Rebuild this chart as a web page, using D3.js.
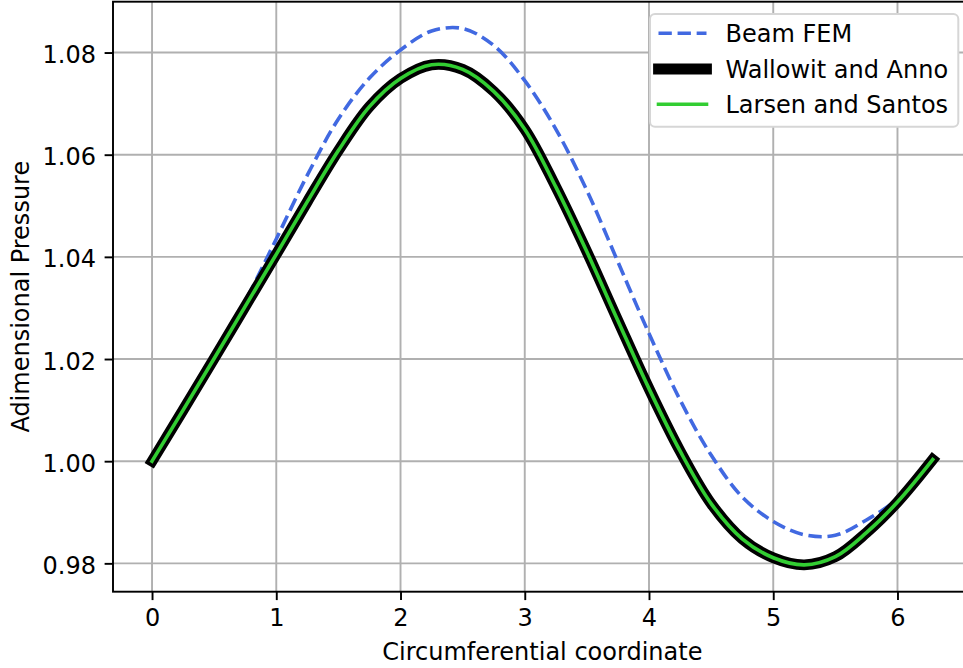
<!DOCTYPE html>
<html>
<head>
<meta charset="utf-8">
<script src="https://cdn.jsdelivr.net/npm/d3@7"></script>
<style>
  html, body { margin: 0; padding: 0; background: #fff; }
  svg { display: block; font-family: "DejaVu Sans", sans-serif; }
</style>
</head>
<body>
<svg id="chart" width="963" height="668"></svg>
<script>
// ---- data ----
const theta = [0, 0.25, 0.5, 0.75, 1.0, 1.25, 1.5, 1.75, 2.0, 2.25, 2.5, 2.75, 3.0, 3.25,
               3.5, 3.75, 4.0, 4.25, 4.5, 4.75, 5.0, 5.25, 5.5, 5.75, 6.0, 6.2832];
const beamFEM = [1.0000, 1.0100, 1.0202, 1.0313, 1.0435, 1.0560, 1.0670, 1.0750, 1.0805, 1.0842,
                 1.0847, 1.0814, 1.0745, 1.0650, 1.0530, 1.0390, 1.0250, 1.0120, 1.0012, 0.9930,
                 0.9882, 0.9856, 0.9855, 0.9885, 0.9926, 1.0002];
const wallowitAnno = [1.0000, 1.0100, 1.0201, 1.0303, 1.0405, 1.0508, 1.0608, 1.0694, 1.0749, 1.0776,
                      1.0767, 1.0724, 1.0650, 1.0537, 1.0410, 1.0275, 1.0142, 1.0020, 0.9917, 0.9848,
                      0.9811, 0.9797, 0.9813, 0.9860, 0.9920, 1.0003];
const larsenSantos = [1.0000, 1.0100, 1.0201, 1.0303, 1.0405, 1.0508, 1.0608, 1.0694, 1.0749, 1.0776,
                      1.0767, 1.0724, 1.0650, 1.0537, 1.0410, 1.0275, 1.0142, 1.0020, 0.9917, 0.9848,
                      0.9811, 0.9797, 0.9813, 0.9860, 0.9920, 1.0003];
const seriesNames = ["Beam FEM", "Wallowit and Anno", "Larsen and Santos"];
const xTicks = [0, 1, 2, 3, 4, 5, 6];
const yTicks = [0.98, 1.00, 1.02, 1.04, 1.06, 1.08];
const xLabel = "Circumferential coordinate";
const yLabel = "Adimensional Pressure";

(function () {
// ---- layout ----
const PT = 2.4;                       // px per point
const pL = 113, pR = 971.7, pT = 1.7, pB = 591.7;
const svg = d3.select("#chart");

const xMin = 0, xMax = d3.max(theta);
const xPad = (xMax - xMin) * 0.05;
const x = d3.scaleLinear().domain([xMin - xPad, xMax + xPad]).range([pL, pR]);

const allY = beamFEM.concat(wallowitAnno, larsenSantos);
const yLo = d3.min(allY), yHi = d3.max(allY);
const yPad = (yHi - yLo) * 0.05;
const y = d3.scaleLinear().domain([yLo - yPad, yHi + yPad]).range([pB, pT]);

// grid
const grid = svg.append("g");
grid.selectAll("line.gx").data(xTicks).join("line").attr("class", "gx")
  .attr("x1", d => x(d)).attr("x2", d => x(d)).attr("y1", pT).attr("y2", pB)
  .attr("stroke", "#b0b0b0").attr("stroke-width", 0.8 * PT);
grid.selectAll("line.gy").data(yTicks).join("line").attr("class", "gy")
  .attr("x1", pL).attr("x2", pR).attr("y1", d => y(d)).attr("y2", d => y(d))
  .attr("stroke", "#b0b0b0").attr("stroke-width", 0.8 * PT);

// lines
const mk = arr => theta.map((t, i) => [t, arr[i]]);
const line = d3.line().x(d => x(d[0])).y(d => y(d[1])).curve(d3.curveCatmullRom.alpha(0.5));
const dash = `${3.7 * 1.5 * PT},${1.6 * 1.5 * PT}`;

svg.append("path").datum(mk(beamFEM)).attr("d", line)
  .attr("fill", "none").attr("stroke", "#4169e1").attr("stroke-width", 1.5 * PT)
  .attr("stroke-dasharray", dash).attr("stroke-linejoin", "round");
svg.append("path").datum(mk(wallowitAnno)).attr("d", line)
  .attr("fill", "none").attr("stroke", "#000").attr("stroke-width", 4.5 * PT)
  .attr("stroke-linecap", "square").attr("stroke-linejoin", "round");
svg.append("path").datum(mk(larsenSantos)).attr("d", line)
  .attr("fill", "none").attr("stroke", "#32cd32").attr("stroke-width", 1.5 * PT)
  .attr("stroke-linecap", "square").attr("stroke-linejoin", "round");

// spines
svg.append("rect").attr("x", pL).attr("y", pT).attr("width", pR - pL).attr("height", pB - pT)
  .attr("fill", "none").attr("stroke", "#000").attr("stroke-width", 0.8 * PT);

// axes
const xAxis = d3.axisBottom(x).tickValues(xTicks).tickFormat(d3.format("d"))
  .tickSize(3.5 * PT).tickPadding(8.6).tickSizeOuter(0);
const gx = svg.append("g").attr("transform", `translate(0,${pB})`).call(xAxis);
const yAxis = d3.axisLeft(y).tickValues(yTicks).tickFormat(d3.format(".2f"))
  .tickSize(3.5 * PT).tickPadding(8.6).tickSizeOuter(0);
const gy = svg.append("g").attr("transform", `translate(${pL},0)`).call(yAxis);
[gx, gy].forEach(g => {
  g.select(".domain").remove();
  g.selectAll(".tick line").attr("stroke", "#000").attr("stroke-width", 0.8 * PT);
  g.selectAll(".tick text").attr("fill", "#000").style("font-size", "24px")
    .style("font-family", "'DejaVu Sans', sans-serif");
});
gy.selectAll(".tick text").attr("dy", "0.42em");

// axis labels
svg.append("text").attr("x", (pL + pR) / 2).attr("y", 659.5)
  .attr("text-anchor", "middle").style("font-size", "24px").text(xLabel);
svg.append("text").attr("transform", `translate(29,${(pT + pB) / 2}) rotate(-90)`)
  .attr("text-anchor", "middle").style("font-size", "24px").text(yLabel);

// legend
const lg = svg.append("g");
lg.append("rect").attr("x", 650).attr("y", 14).attr("width", 308.3).attr("height", 112.7)
  .attr("rx", 5).attr("ry", 5).attr("fill", "#fff").attr("stroke", "#d6d6d6").attr("stroke-width", 2);
const rowsY = [33.3, 69, 104.3];
const styles = [
  { stroke: "#4169e1", w: 1.5 * PT, dash: dash, cap: "butt" },
  { stroke: "#000", w: 4.5 * PT, dash: null, cap: "square" },
  { stroke: "#32cd32", w: 1.5 * PT, dash: null, cap: "square" }
];
seriesNames.forEach((name, i) => {
  const s = styles[i];
  const l = lg.append("line").attr("x1", 658.5).attr("x2", 706.5)
    .attr("y1", rowsY[i]).attr("y2", rowsY[i])
    .attr("stroke", s.stroke).attr("stroke-width", s.w).attr("stroke-linecap", s.cap);
  if (s.dash) l.attr("stroke-dasharray", s.dash);
  lg.append("text").attr("x", 725.5).attr("y", rowsY[i] + 8.8)
    .style("font-size", "24px").attr("fill", "#000").text(name);
});
})();
</script>
</body>
</html>
